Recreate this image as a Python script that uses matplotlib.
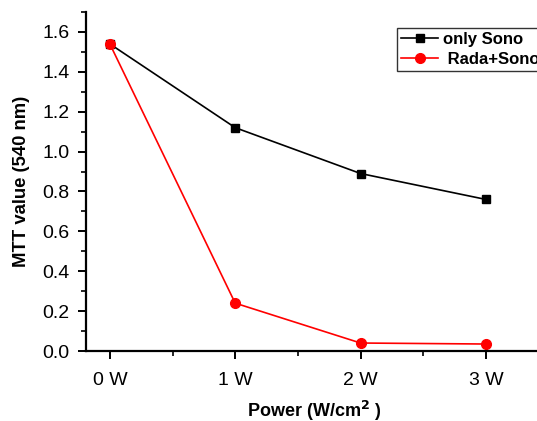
import matplotlib
matplotlib.use("Agg")
import matplotlib.pyplot as plt
from matplotlib.ticker import MultipleLocator

plt.rcParams['font.family'] = ['Liberation Sans', 'DejaVu Sans']

categories = ["0 W", "1 W", "2 W", "3 W"]
only_sono = [1.54, 1.12, 0.89, 0.76]
rada_sono = [1.54, 0.24, 0.04, 0.035]

fig = plt.figure(figsize=(5.37, 4.21), dpi=100)
ax = fig.add_axes([86/537, 70/421, 1 - 86/537 + 0.01, (351-12)/421])
x = list(range(len(categories)))
ax.plot(x, only_sono, color='black', marker='s', markersize=6, lw=1.2, label='only Sono')
ax.plot(x, rada_sono, color='red', marker='o', markersize=7, lw=1.2, label=' Rada+Sono')

ax.set_xlim(-0.19, 3.45)
ax.set_ylim(0, 1.70)
ax.set_xticks(x)
ax.set_xticklabels(categories)
ax.xaxis.set_minor_locator(MultipleLocator(0.5))
ax.yaxis.set_major_locator(MultipleLocator(0.2))
ax.yaxis.set_minor_locator(MultipleLocator(0.1))
for s in ['top', 'right']:
    ax.spines[s].set_visible(False)
for s in ['left', 'bottom']:
    ax.spines[s].set_linewidth(1.6)
ax.tick_params(which='major', direction='out', length=6, width=1.4, labelsize=14, pad=6)
ax.tick_params(which='minor', direction='out', length=3.5, width=1.2)
ax.tick_params(axis='x', which='major', pad=9)
ax.set_yticklabels([f"{v:.1f}" for v in ax.get_yticks()])

ax.set_ylabel('MTT value (540 nm)', fontsize=13.3, fontweight='bold', labelpad=9)
ax.set_xlabel('Power (W/cm$^{\\mathbf{2}}$ )', fontsize=13, fontweight='bold', labelpad=7)

leg = ax.legend(loc='upper left', bbox_to_anchor=(397/537, 1 - 28/421), bbox_transform=fig.transFigure,
                frameon=True, fancybox=False, edgecolor='black', prop={'weight': 'bold', 'size': 12},
                handlelength=2.2, handletextpad=0.3, borderpad=0.25, labelspacing=0.3, borderaxespad=0)
leg.get_frame().set_linewidth(1.0)

fig.savefig('out.png', dpi=100)
